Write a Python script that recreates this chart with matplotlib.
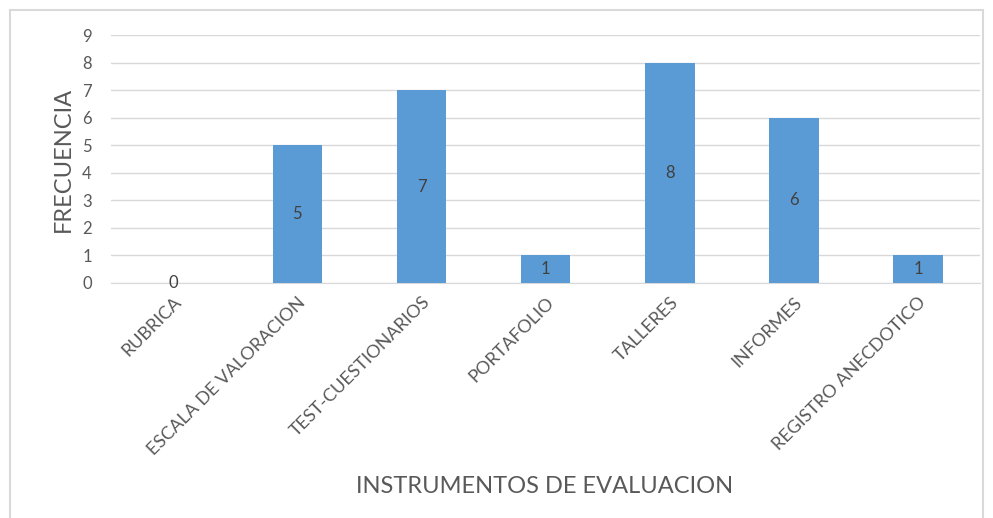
import matplotlib.pyplot as plt
from matplotlib.patches import Rectangle

categorias = ['RUBRICA', 'ESCALA DE VALORACION', 'TEST-CUESTIONARIOS', 'PORTAFOLIO',
              'TALLERES', 'INFORMES', 'REGISTRO ANECDOTICO']
frecuencia = [0, 5, 7, 1, 8, 6, 1]

plt.rcParams['font.family'] = ['Lato', 'DejaVu Sans']
gris = '#595959'

fig = plt.figure(figsize=(9.93, 5.18), dpi=100)
ax = fig.add_axes([0.112, 0.454, 0.875, 0.478])

x = range(len(categorias))
barras = ax.bar(x, frecuencia, width=0.4, color='#5B9BD5', zorder=3)
for b, v in zip(barras, frecuencia):
    ax.text(b.get_x() + b.get_width() / 2, v / 2, str(v), ha='center', va='center',
            fontsize=12, color='#404040', zorder=4)

ax.set_xlim(-0.5, len(categorias) - 0.5)
ax.set_ylim(0, 9)
ax.set_yticks(range(10))
ax.grid(axis='y', color='#D9D9D9', linewidth=1, zorder=0)
for s in ['top', 'right', 'left']:
    ax.spines[s].set_visible(False)
ax.spines['bottom'].set_color('#D9D9D9')
ax.tick_params(axis='both', length=0, colors=gris, labelsize=12)
ax.tick_params(axis='y', pad=14)
ax.set_xticks(list(x))
ax.set_xticklabels(categorias, rotation=45, ha='right', rotation_mode='anchor', fontsize=13)
ax.tick_params(axis='x', pad=8)

ax.set_ylabel('FRECUENCIA', fontsize=17, color=gris, labelpad=6)
fig.text(0.548, 0.06, 'INSTRUMENTOS DE EVALUACION', ha='center', va='center',
         fontsize=17, color=gris)

fig.patches.append(Rectangle((10 / 993, -0.05), 973 / 993, 1.05 - 10 / 518,
                             transform=fig.transFigure, fill=False,
                             edgecolor='#D9D9D9', linewidth=1.5))

fig.savefig('out.png', dpi=100)
